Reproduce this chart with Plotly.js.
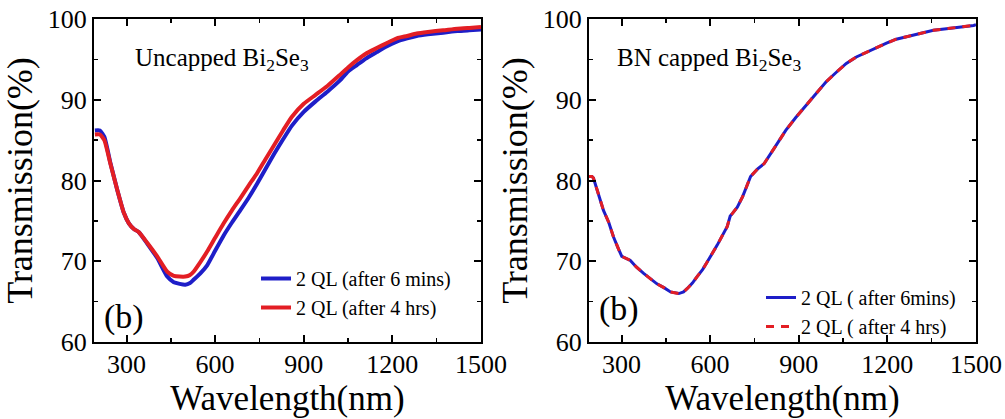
<!DOCTYPE html>
<html>
<head>
<meta charset="utf-8">
<script src="https://cdn.plot.ly/plotly-3.0.1.min.js"></script>
<style>html,body{margin:0;padding:0;background:#fff}#chart{width:1005px;height:419px}</style>
</head>
<body>
<div id="chart"></div>
<script>
// ---- Left panel: Uncapped Bi2Se3 ----
const leftBlueX = [193,210,225,246,269,291,308,325,342,370,404,438,460,480,499,515,527,550,573,600,629,657,685,714,742,770,800,830,860,900,940,980,1020,1050,1080,1110,1147,1180,1215,1250,1282,1320,1372,1420,1460,1500];
const leftBlueY = [86.2,86.2,85.4,82.1,78.8,76.0,74.7,74.0,73.6,72.2,70.4,68.1,67.4,67.2,67.1,67.3,67.7,68.5,69.5,71.3,73.2,74.8,76.3,77.9,79.6,81.4,83.3,85.1,86.8,88.5,89.8,91.0,92.3,93.5,94.3,95.1,95.9,96.6,97.2,97.6,97.9,98.1,98.3,98.5,98.6,98.7];
const leftRedX = [193,210,225,246,269,291,308,325,342,370,404,438,460,480,499,515,527,550,573,600,629,657,685,714,742,770,800,830,860,900,940,980,1020,1050,1080,1110,1147,1180,1215,1250,1282,1320,1372,1420,1460,1500];
const leftRedY = [85.7,85.7,85.0,82.0,78.8,76.0,74.7,74.0,73.6,72.3,70.6,68.7,68.2,68.1,68.1,68.3,68.7,69.9,71.2,72.9,74.7,76.3,77.8,79.4,80.9,82.6,84.4,86.2,87.9,89.5,90.6,91.7,93.0,94.0,94.9,95.7,96.4,97.0,97.6,97.9,98.2,98.4,98.6,98.8,98.9,99.0];

// ---- Right panel: BN capped Bi2Se3 ----
const rightBlueX = [188,200,205,222,239,257,273,290,301,330,350,375,400,420,445,466,494,510,522,540,556,575,590,624,658,668,675,692,710,726,737,760,783,810,830,856,890,924,960,992,1030,1061,1095,1129,1165,1197,1230,1265,1310,1356,1400,1450,1492,1500];
const rightBlueY = [80.5,80.5,80.3,78.4,76.3,74.8,73.0,71.5,70.6,70.1,69.3,68.5,67.8,67.2,66.7,66.2,66.0,66.2,66.6,67.3,68.1,69.0,69.9,72.0,74.3,75.6,75.9,76.7,78.0,79.6,80.5,81.4,82.1,83.6,84.8,86.2,87.8,89.3,90.8,92.2,93.5,94.5,95.3,95.9,96.5,97.0,97.5,97.8,98.2,98.6,98.8,99.0,99.2,99.3];
const rightRedX = rightBlueX.slice();
const rightRedY = [80.5,80.5,80.3,78.4,76.3,74.8,73.0,71.5,70.6,70.1,69.3,68.5,67.8,67.2,66.7,66.2,66.0,66.2,66.6,67.3,68.1,69.0,69.9,72.0,74.3,75.6,75.9,76.7,78.0,79.6,80.5,81.4,82.1,83.6,84.8,86.2,87.8,89.3,90.8,92.2,93.5,94.5,95.3,95.9,96.5,97.0,97.5,97.8,98.2,98.6,98.8,99.0,99.2,99.3];

const seriesNames = {
  leftBlue: '2 QL (after 6 mins)',
  leftRed: '2 QL (after 4 hrs)',
  rightBlue: '2 QL ( after 6mins)',
  rightRed: '2 QL ( after 4 hrs)'
};
const xTickVals = [300, 600, 900, 1200, 1500];
const yTickVals = [60, 70, 80, 90, 100];

const BLUE = '#1e1ec8';
const RED = '#e31e24';
const FONT = 'Liberation Serif';

const traces = [
  {x: leftBlueX, y: leftBlueY, name: seriesNames.leftBlue, type: 'scatter', mode: 'lines',
   line: {color: BLUE, width: 4, shape: 'spline', smoothing: 0.5}, xaxis: 'x', yaxis: 'y', legend: 'legend'},
  {x: leftRedX, y: leftRedY, name: seriesNames.leftRed, type: 'scatter', mode: 'lines',
   line: {color: RED, width: 4, shape: 'spline', smoothing: 0.5}, xaxis: 'x', yaxis: 'y', legend: 'legend'},
  {x: rightBlueX, y: rightBlueY, name: seriesNames.rightBlue, type: 'scatter', mode: 'lines',
   line: {color: BLUE, width: 3}, xaxis: 'x2', yaxis: 'y2', legend: 'legend2'},
  {x: rightRedX, y: rightRedY, name: seriesNames.rightRed, type: 'scatter', mode: 'lines',
   line: {color: RED, width: 3, dash: '8px,7px'}, xaxis: 'x2', yaxis: 'y2', legend: 'legend2'}
];

function xAxis(domain, anchor) {
  return {
    domain: domain, anchor: anchor, range: [190, 1500],
    tickmode: 'array', tickvals: xTickVals,
    ticks: 'inside', ticklen: 7, tickwidth: 2, tickcolor: '#000',
    showline: true, linewidth: 2, linecolor: '#000', mirror: 'allticks',
    showgrid: false, zeroline: false,
    minor: {tickmode: 'linear', tick0: 150, dtick: 300, ticks: 'inside', ticklen: 4, tickwidth: 1.5, tickcolor: '#000', showgrid: false},
    tickfont: {family: FONT, size: 26, color: '#000'},
    ticklabelstandoff: -2,
    title: {text: 'Wavelength(nm)', font: {family: FONT, size: 35, color: '#000'}, standoff: 2}
  };
}
function yAxis(domain, anchor) {
  return {
    domain: domain, anchor: anchor, range: [60, 100],
    tickmode: 'array', tickvals: yTickVals,
    ticks: 'inside', ticklen: 7, tickwidth: 2, tickcolor: '#000',
    showline: true, linewidth: 2, linecolor: '#000', mirror: 'allticks',
    showgrid: false, zeroline: false,
    minor: {tickmode: 'linear', tick0: 65, dtick: 10, ticks: 'inside', ticklen: 4, tickwidth: 1.5, tickcolor: '#000', showgrid: false},
    tickfont: {family: FONT, size: 26, color: '#000'},
    title: {text: 'Transmission(%)', font: {family: FONT, size: 36, color: '#000'}, standoff: 4}
  };
}

const W = 1005, H = 419;
const yDom = [(H - 342) / H, (H - 19) / H];

const layout = {
  width: W, height: H,
  margin: {l: 0, r: 0, t: 0, b: 0},
  paper_bgcolor: '#fff', plot_bgcolor: '#fff',
  font: {family: FONT, color: '#000'},
  xaxis: xAxis([94 / W, 481 / W], 'y'),
  yaxis: yAxis(yDom, 'x'),
  xaxis2: xAxis([589 / W, 976 / W], 'y2'),
  yaxis2: yAxis(yDom, 'x2'),
  legend: {x: 256 / W, y: (H - 259) / H, xanchor: 'left', yanchor: 'top', bgcolor: 'rgba(0,0,0,0)',
           font: {family: FONT, size: 20, color: '#000'}, tracegroupgap: 0, itemwidth: 30},
  legend2: {x: 761 / W, y: (H - 278) / H, xanchor: 'left', yanchor: 'top', bgcolor: 'rgba(0,0,0,0)',
           font: {family: FONT, size: 20, color: '#000'}, tracegroupgap: 0, itemwidth: 30},
  annotations: [
    {xref: 'paper', yref: 'paper', x: 133 / W, y: (H - 60) / H, xanchor: 'left', yanchor: 'middle', showarrow: false,
     text: 'Uncapped Bi<sub>2</sub>Se<sub>3</sub>', font: {family: FONT, size: 25, color: '#000'}},
    {xref: 'paper', yref: 'paper', x: 615 / W, y: (H - 60) / H, xanchor: 'left', yanchor: 'middle', showarrow: false,
     text: 'BN capped Bi<sub>2</sub>Se<sub>3</sub>', font: {family: FONT, size: 25, color: '#000'}},
    {xref: 'paper', yref: 'paper', x: 102 / W, y: (H - 317) / H, xanchor: 'left', yanchor: 'middle', showarrow: false,
     text: '(b)', font: {family: FONT, size: 34, color: '#000'}},
    {xref: 'paper', yref: 'paper', x: 597 / W, y: (H - 309) / H, xanchor: 'left', yanchor: 'middle', showarrow: false,
     text: '(b)', font: {family: FONT, size: 34, color: '#000'}}
  ],
  showlegend: true
};

Plotly.newPlot('chart', traces, layout, {displayModeBar: false, staticPlot: true});
</script>
</body>
</html>
